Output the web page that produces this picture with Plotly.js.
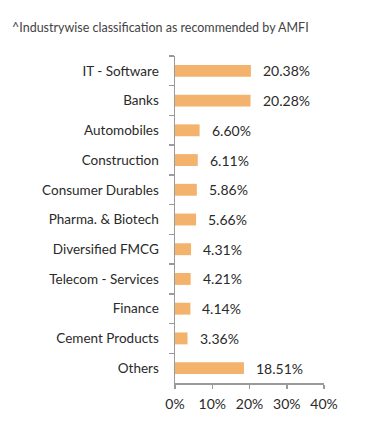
<!DOCTYPE html>
<html><head><meta charset="utf-8">
<script src="https://cdn.plot.ly/plotly-3.0.1.min.js"></script>
<style>html,body{margin:0;padding:0;background:#fff;}#chart{width:391px;height:436px;}</style>
</head><body><div id="chart"></div>
<script>
const categories = ["IT - Software","Banks","Automobiles","Construction","Consumer Durables","Pharma. & Biotech","Diversified FMCG","Telecom - Services","Finance","Cement Products","Others"];
const values = [20.38,20.28,6.60,6.11,5.86,5.66,4.31,4.21,4.14,3.36,18.51];
const valueLabels = values.map(v => v.toFixed(2) + "%");
const xTickVals = [0,10,20,30,40];
const xTickText = ["0%","10%","20%","30%","40%"];
const note = "^Industrywise classification as recommended by AMFI";

const font = "Lato, 'Open Sans', sans-serif";
const trace = {
  type: "bar", orientation: "h",
  x: values, y: categories,
  marker: {color: "#F3B36C"},
  width: 0.4,
  hoverinfo: "none"
};
const annotations = values.map((v, i) => ({
  x: v, y: categories[i], xref: "x", yref: "y",
  text: valueLabels[i], showarrow: false, xanchor: "left", xshift: 10,
  font: {family: font, size: 14, color: "#2a2a2a"}
}));
annotations.push({
  xref: "paper", yref: "paper", x: -174/150 + 8/150, y: 1, yshift: 29,
  xanchor: "left", yanchor: "middle", showarrow: false,
  text: note, font: {family: font, size: 12.5, color: "#444"}
});
const layout = {
  width: 391, height: 436,
  margin: {l: 174.5, r: 66.5, t: 56, b: 53},
  paper_bgcolor: "#fff", plot_bgcolor: "#fff",
  showlegend: false,
  xaxis: {
    range: [0, 40], tickvals: xTickVals, ticktext: xTickText,
    showgrid: false, zeroline: false, showline: true, linecolor: "#9a9a9a", linewidth: 1.5,
    ticks: "outside", ticklen: 4, tickcolor: "#9a9a9a", tickwidth: 1.5,
    ticklabelstandoff: 4,
    tickfont: {family: font, size: 14, color: "#2a2a2a"}, fixedrange: true
  },
  yaxis: {
    autorange: "reversed", type: "category",
    showgrid: false, zeroline: false, showline: true, linecolor: "#9a9a9a", linewidth: 1.5,
    ticks: "outside", ticklen: 5, tickcolor: "#9a9a9a", tickwidth: 1.5, tickson: "boundaries",
    ticklabelstandoff: 12,
    tickfont: {family: font, size: 13.5, color: "#2a2a2a"}, fixedrange: true
  },
  annotations: annotations
};
Plotly.newPlot("chart", [trace], layout, {staticPlot: true, displayModeBar: false});
</script></body></html>
